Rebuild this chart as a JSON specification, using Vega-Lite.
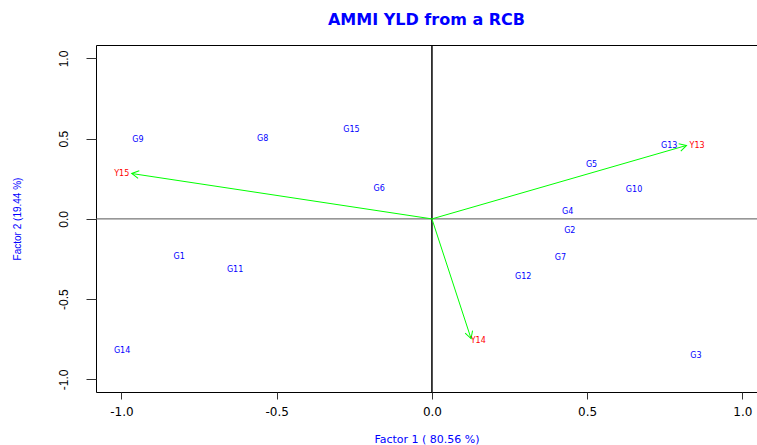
{
  "$schema": "https://vega.github.io/schema/vega-lite/v6.json",
  "width": 661,
  "height": 347,
  "autosize": {"type": "none"},
  "padding": {"left": 96, "top": 45, "right": 0, "bottom": 53},
  "background": "white",
  "title": {"text": "AMMI YLD from a RCB", "color": "blue", "font": "DejaVu Sans", "fontSize": 16, "fontWeight": "bold", "anchor": "middle", "baseline": "alphabetic", "offset": 3},
  "config": {
    "view": {"stroke": "black", "strokeWidth": 1},
    "axis": {"domain": false, "grid": false, "tickColor": "#333333", "labelColor": "black", "titleColor": "blue", "titleFontWeight": "normal"},
    "axisX": {"tickSize": 7, "labelFont": "DejaVu Sans", "labelFontSize": 12, "labelPadding": 7, "titleFont": "DejaVu Sans", "titleFontSize": 11, "titlePadding": 16},
    "axisY": {"tickSize": 10, "labelFont": "Liberation Sans", "labelFontSize": 12, "labelAngle": 270, "labelAlign": "center", "labelBaseline": "middle", "labelPadding": 23, "titleFont": "Liberation Sans", "titleFontSize": 10, "titlePadding": 35}
  },
  "datasets": {
    "geno": [
      {"name": "G1", "x": -0.814, "y": -0.237},
      {"name": "G2", "x": 0.444, "y": -0.075},
      {"name": "G3", "x": 0.850, "y": -0.857},
      {"name": "G4", "x": 0.437, "y": 0.044},
      {"name": "G5", "x": 0.514, "y": 0.335},
      {"name": "G6", "x": -0.170, "y": 0.185},
      {"name": "G7", "x": 0.414, "y": -0.243},
      {"name": "G8", "x": -0.545, "y": 0.497},
      {"name": "G9", "x": -0.947, "y": 0.490},
      {"name": "G10", "x": 0.651, "y": 0.179},
      {"name": "G11", "x": -0.634, "y": -0.320},
      {"name": "G12", "x": 0.294, "y": -0.362},
      {"name": "G13", "x": 0.764, "y": 0.454},
      {"name": "G14", "x": -0.998, "y": -0.823},
      {"name": "G15", "x": -0.259, "y": 0.553}
    ],
    "env": [
      {"name": "Y13", "x": 0.854, "y": 0.454, "ax": 0.820, "ay": 0.458},
      {"name": "Y14", "x": 0.149, "y": -0.761, "ax": 0.126, "ay": -0.746},
      {"name": "Y15", "x": -0.999, "y": 0.277, "ax": -0.967, "ay": 0.283}
    ],
    "origin": [{"v": 0}]
  },
  "layer": [
    {
      "data": {"name": "geno"},
      "mark": {"type": "text", "font": "DejaVu Sans", "fontSize": 8, "color": "blue", "align": "center", "baseline": "middle"},
      "encoding": {
        "x": {"field": "x", "type": "quantitative", "scale": {"domain": [-1.082, 1.047], "nice": false, "zero": false}, "axis": {"values": [-1, -0.5, 0, 0.5, 1], "format": ".1f", "labelExpr": "replace(datum.label, '\u2212', '-')", "title": "Factor 1 ( 80.56 %)"}},
        "y": {"field": "y", "type": "quantitative", "scale": {"domain": [-1.079, 1.084], "nice": false, "zero": false}, "axis": {"values": [-1, -0.5, 0, 0.5, 1], "format": ".1f", "labelExpr": "replace(datum.label, '\u2212', '-')", "title": "Factor 2 (19.44 %)"}},
        "text": {"field": "name"}
      }
    },
    {
      "data": {"name": "origin"},
      "mark": {"type": "rule", "color": "#555555", "strokeWidth": 1},
      "encoding": {"y": {"field": "v", "type": "quantitative"}}
    },
    {
      "data": {"name": "origin"},
      "mark": {"type": "rule", "color": "black", "strokeWidth": 1.5},
      "encoding": {"x": {"field": "v", "type": "quantitative"}}
    },
    {
      "data": {"name": "env"},
      "mark": {"type": "rule", "color": "#00ff00", "strokeWidth": 1},
      "encoding": {
        "x": {"field": "ax", "type": "quantitative"},
        "y": {"field": "ay", "type": "quantitative"},
        "x2": {"datum": 0},
        "y2": {"datum": 0}
      }
    },
    {
      "data": {"name": "env"},
      "transform": [{"calculate": "atan2(-datum.ay * 160.3, datum.ax * 310.5) * 180 / PI", "as": "ang"}],
      "mark": {"type": "point", "shape": "M -1 -0.55 L 0 0 L -1 0.55", "filled": false, "stroke": "#00ff00", "strokeWidth": 1, "size": 200, "opacity": 1},
      "encoding": {
        "x": {"field": "ax", "type": "quantitative"},
        "y": {"field": "ay", "type": "quantitative"},
        "angle": {"field": "ang", "type": "quantitative", "scale": null}
      }
    },
    {
      "data": {"name": "env"},
      "mark": {"type": "text", "font": "DejaVu Sans", "fontSize": 8, "color": "#ff0000", "align": "center", "baseline": "middle"},
      "encoding": {
        "x": {"field": "x", "type": "quantitative"},
        "y": {"field": "y", "type": "quantitative"},
        "text": {"field": "name"}
      }
    }
  ]
}
